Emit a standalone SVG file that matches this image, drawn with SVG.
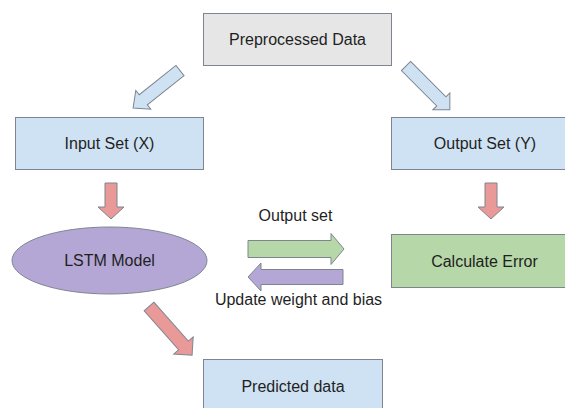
<svg xmlns="http://www.w3.org/2000/svg" width="565" height="408" viewBox="0 0 565 408">
<style>
.box{stroke:#7d8690;stroke-width:1}
.t{font-family:"Liberation Sans",Arial,sans-serif;font-size:16px;fill:#1f1f1f;text-anchor:middle}
.arr{stroke:#7d8690;stroke-width:1;stroke-linejoin:miter}
.blue{fill:#cfe2f3}
.red{fill:#ea9999}
.green{fill:#b6d7a8}
.purple{fill:#b4a7d6}
.grey{fill:#e6e6e6}
</style>
<rect width="565" height="408" fill="#ffffff"/>
<g id="preprocessed">
<rect class="box grey" x="203.5" y="13.5" width="188" height="52"/>
<text class="t" x="297.5" y="45">Preprocessed Data</text>
</g>
<g id="input">
<rect class="box blue" x="15.5" y="117.5" width="188" height="52"/>
<text class="t" x="109.5" y="149">Input Set (X)</text>
</g>
<g id="output">
<rect class="box blue" x="391.5" y="117.5" width="188" height="52"/>
<text class="t" x="485" y="149">Output Set (Y)</text>
</g>
<g id="lstm">
<ellipse class="box purple" cx="109.5" cy="260.5" rx="97.5" ry="33.5"/>
<text class="t" x="109.5" y="266">LSTM Model</text>
</g>
<g id="calc">
<rect class="box green" x="391.5" y="234.5" width="188" height="53"/>
<text class="t" x="484.5" y="266.5">Calculate Error</text>
</g>
<g id="predicted">
<rect class="box blue" x="203.5" y="359.5" width="179" height="60"/>
<text class="t" x="293" y="391.5">Predicted data</text>
</g>
<g id="connectors">
<polygon class="arr blue" transform="translate(180,70.5) rotate(141.4)" points="0,-6.5 47,-6.5 47,-12 60,0 47,12 47,6.5 0,6.5"/>
<polygon class="arr blue" transform="translate(406,66) rotate(45)" points="0,-6.5 50,-6.5 50,-12 62,0 50,12 50,6.5 0,6.5"/>
<polygon class="arr red" transform="translate(111,183) rotate(90)" points="0,-6 24,-6 24,-13 36,0 24,13 24,6 0,6"/>
<polygon class="arr red" transform="translate(491,183) rotate(90)" points="0,-6 24,-6 24,-13 36,0 24,13 24,6 0,6"/>
<polygon class="arr red" transform="translate(149,306.5) rotate(48.5)" points="0,-6.5 52,-6.5 52,-13 65,0 52,13 52,6.5 0,6.5"/>
<polygon class="arr green" transform="translate(248,249)" points="0,-8.5 83,-8.5 83,-15.5 96,0 83,15.5 83,8.5 0,8.5"/>
<polygon class="arr purple" transform="translate(343,277) rotate(180)" points="0,-7.5 82,-7.5 82,-14 95,0 82,14 82,7.5 0,7.5"/>
<text class="t" x="295.5" y="221">Output set</text>
<text class="t" x="298.5" y="305">Update weight and bias</text>
</g>
</svg>
